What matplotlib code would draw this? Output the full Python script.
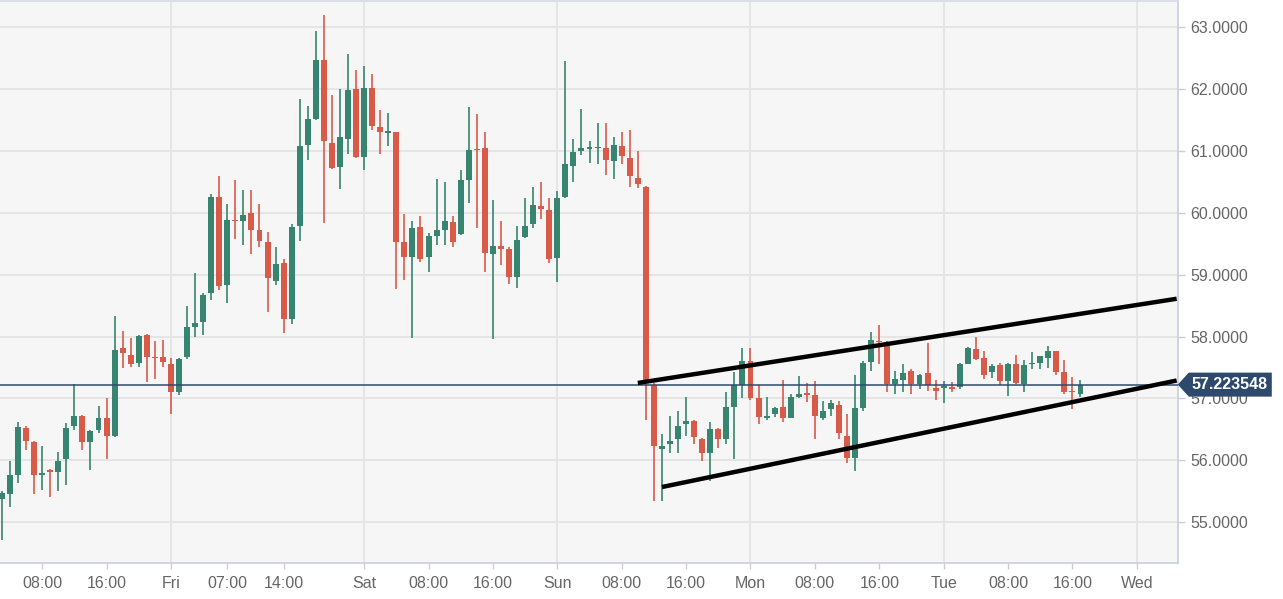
import numpy as np
import matplotlib.pyplot as plt
from matplotlib.patches import Polygon

plt.rcParams['font.family'] = ['Liberation Sans', 'DejaVu Sans']

# hourly candles, hour index counted from Thu 00:00
hours = list(range(3, 138))
opens = [55.37, 55.46, 55.76, 56.53, 56.30, 55.77, 55.84, 55.82, 56.02, 56.56,
         56.72, 56.30, 56.49, 56.69, 56.39, 57.82, 57.70, 57.57, 58.02, 57.67,
         57.67, 57.55, 57.11, 57.67, 58.16, 58.24, 58.70, 60.26, 58.83, 59.88,
         59.86, 59.99, 59.72, 59.52, 58.89, 59.19, 58.28, 59.79, 61.09, 61.51,
         62.47, 61.13, 60.74, 61.19, 62.00, 60.90, 62.02, 61.38, 61.29, 61.30,
         59.52, 59.28, 59.77, 59.28, 59.63, 59.72, 59.85, 59.65, 60.53, 61.03,
         61.04, 59.34, 59.47, 59.42, 58.96, 59.60, 59.81, 60.10, 60.05, 59.27,
         60.25, 60.75, 61.00, 61.03, 61.04, 61.04, 60.83, 61.08, 60.89, 60.56,
         60.41, 57.22, 56.18, 56.26, 56.34, 56.58, 56.63, 56.34, 56.12, 56.51,
         56.35, 56.87, 57.22, 57.60, 57.00, 56.68, 56.75, 56.86, 56.69, 57.03,
         57.08, 57.06, 56.69, 56.83, 56.90, 56.39, 56.04, 56.85, 57.59, 57.93,
         57.91, 57.24, 57.30, 57.45, 57.23, 57.41, 57.17, 57.17, 57.19, 57.19,
         57.56, 57.80, 57.65, 57.42, 57.54, 57.29, 57.56, 57.24, 57.55, 57.57,
         57.66, 57.76, 57.43, 57.12, 57.08]
highs = [55.50, 55.99, 56.62, 56.55, 56.32, 56.23, 55.86, 56.13, 56.61, 57.24,
         56.74, 56.49, 56.88, 57.00, 58.33, 58.09, 57.97, 58.03, 58.04, 57.93,
         57.95, 57.65, 57.66, 58.49, 59.02, 58.70, 60.30, 60.60, 60.14, 60.52,
         60.36, 60.36, 60.14, 59.68, 59.44, 59.26, 59.82, 61.83, 61.72, 62.94,
         63.19, 61.90, 62.00, 62.56, 62.31, 62.37, 62.24, 61.65, 61.61, 61.31,
         59.98, 59.86, 59.94, 59.67, 60.54, 60.49, 59.94, 60.69, 61.70, 61.59,
         61.30, 60.20, 59.86, 59.44, 59.79, 60.24, 60.41, 60.50, 60.24, 60.35,
         62.45, 61.19, 61.68, 61.15, 61.45, 61.45, 61.23, 61.30, 61.34, 61.00,
         60.43, 57.25, 56.43, 56.71, 56.79, 57.03, 56.65, 56.36, 56.62, 56.53,
         57.10, 57.43, 57.81, 57.81, 57.21, 57.03, 56.87, 57.30, 57.07, 57.37,
         57.25, 57.29, 56.96, 56.98, 56.96, 56.75, 57.38, 57.61, 58.08, 58.19,
         57.93, 57.44, 57.56, 57.47, 57.40, 57.89, 57.30, 57.29, 57.26, 57.58,
         57.83, 58.00, 57.77, 57.56, 57.58, 57.58, 57.70, 57.62, 57.75, 57.69,
         57.85, 57.77, 57.62, 57.35, 57.30]
lows = [54.71, 55.25, 55.63, 56.16, 55.46, 55.53, 55.41, 55.51, 55.60, 56.49,
        56.16, 55.84, 56.45, 56.02, 56.37, 57.49, 57.51, 57.51, 57.27, 57.31,
        57.51, 56.75, 57.05, 57.64, 58.00, 58.02, 58.59, 58.75, 58.54, 59.57,
        59.48, 59.33, 59.45, 58.40, 58.83, 58.06, 58.21, 59.55, 60.85, 61.49,
        59.84, 60.70, 60.39, 60.95, 60.88, 60.69, 61.34, 60.95, 61.07, 58.77,
        58.92, 57.98, 59.21, 59.05, 59.48, 59.48, 59.45, 59.64, 60.15, 59.75,
        59.04, 57.96, 59.16, 58.85, 58.78, 59.59, 59.75, 59.89, 59.19, 58.88,
        60.24, 60.49, 60.93, 60.81, 60.78, 60.61, 60.54, 60.78, 60.41, 60.40,
        56.66, 55.34, 55.35, 56.12, 56.12, 56.39, 56.27, 55.99, 55.67, 56.20,
        56.26, 56.02, 57.01, 56.97, 56.58, 56.66, 56.70, 56.62, 56.68, 57.00,
        56.94, 56.34, 56.65, 56.72, 56.34, 55.95, 55.83, 56.80, 57.45, 57.56,
        57.11, 57.07, 57.11, 57.08, 57.16, 57.12, 56.97, 56.92, 57.10, 57.15,
        57.55, 57.62, 57.31, 57.33, 57.21, 57.04, 57.23, 57.11, 57.48, 57.48,
        57.50, 57.38, 57.08, 56.83, 57.02]
closes = [55.47, 55.76, 56.54, 56.31, 55.76, 55.80, 55.81, 55.99, 56.53, 56.72,
          56.30, 56.47, 56.69, 56.39, 57.78, 57.73, 57.56, 58.01, 57.67, 57.65,
          57.59, 57.11, 57.63, 58.15, 58.22, 58.67, 60.26, 58.82, 59.88, 59.86,
          59.96, 59.72, 59.55, 58.94, 59.17, 58.29, 59.77, 61.08, 61.51, 62.47,
          61.16, 60.72, 61.23, 61.98, 60.90, 62.02, 61.40, 61.30, 61.31, 59.53,
          59.28, 59.75, 59.25, 59.62, 59.72, 59.87, 59.53, 60.53, 61.02, 61.01,
          59.35, 59.47, 59.42, 58.96, 59.56, 59.78, 60.13, 60.06, 59.26, 60.24,
          60.78, 60.98, 61.04, 61.05, 61.06, 60.85, 61.10, 60.92, 60.59, 60.47,
          57.30, 56.23, 56.24, 56.31, 56.56, 56.63, 56.38, 56.12, 56.51, 56.35,
          56.86, 57.22, 57.61, 57.01, 56.70, 56.72, 56.85, 56.69, 57.03, 57.07,
          57.06, 56.71, 56.80, 56.92, 56.45, 56.04, 56.85, 57.57, 57.94, 57.91,
          57.24, 57.32, 57.41, 57.24, 57.38, 57.21, 57.12, 57.19, 57.15, 57.56,
          57.82, 57.64, 57.38, 57.53, 57.29, 57.56, 57.25, 57.54, 57.57, 57.68,
          57.76, 57.42, 57.11, 57.10, 57.223548]

last_price = 57.223548

# channel drawn on the chart: (hour, price) end points
upper_line_h = [82.0, 148.95]
upper_line_p = [57.25, 58.61]
lower_line_h = [85.0, 148.95]
lower_line_p = [55.57, 57.29]

tick_hours = [8, 16, 24, 31, 38, 48, 56, 64, 72, 80, 88, 96, 104, 112, 120, 128, 136, 144]
tick_labels = ['08:00', '16:00', 'Fri', '07:00', '14:00', 'Sat', '08:00', '16:00', 'Sun',
               '08:00', '16:00', 'Mon', '08:00', '16:00', 'Tue', '08:00', '16:00', 'Wed']
day_hours = [24, 48, 72, 96, 120, 144]
price_ticks = [55, 56, 57, 58, 59, 60, 61, 62, 63]

GREEN = '#378470'
RED = '#d85a48'

fig = plt.figure(figsize=(12.83, 5.99), dpi=100)
fig.patch.set_facecolor('white')
ax = fig.add_axes([0, 0.0608, 0.918, 0.9367])
ax.set_facecolor('#f6f6f6')

h = np.array(hours)
o = np.array(opens)
hi = np.array(highs)
lo = np.array(lows)
c = np.array(closes)
up = c >= o
colors = np.where(up, GREEN, RED)

ax.vlines(h, lo, hi, colors=colors, lw=1.2, zorder=3)
bottoms = np.minimum(o, c)
heights = np.maximum(np.abs(c - o), 0.025)
ax.bar(h, heights, bottom=bottoms, width=0.74, color=colors, edgecolor='none', zorder=4)

# current price line
ax.axhline(last_price, color='#2e4a6e', lw=1.1, zorder=5)

# channel
ax.plot(upper_line_h, upper_line_p, color='black', lw=3.2, zorder=6, solid_capstyle='butt')
ax.plot(lower_line_h, lower_line_p, color='black', lw=3.2, zorder=6, solid_capstyle='butt')

ax.set_xlim(2.76, 149.09)
ax.set_ylim(54.35, 63.41)

# grid
for p in price_ticks:
    ax.axhline(p, color='#e4e4e4', lw=1.3, zorder=1)
for d in day_hours:
    ax.axvline(d, color='#e4e4e4', lw=1.3, zorder=1)

ax.set_xticks(tick_hours)
ax.set_xticklabels(tick_labels)
ax.set_yticks(price_ticks)
ax.set_yticklabels(['%.4f' % p for p in price_ticks])
ax.yaxis.tick_right()
ax.tick_params(axis='y', direction='out', length=5, width=1, color='#c9cedf',
               labelcolor='#666666', labelsize=11.5, pad=4)
ax.tick_params(axis='x', direction='out', length=4, width=1, color='#c9cedf',
               labelcolor='#666666', labelsize=11.5, pad=6)

ax.spines['left'].set_visible(False)
ax.spines['right'].set_color('#c9cedf')
ax.spines['bottom'].set_color('#c9cedf')
ax.spines['top'].set_color('#d6d9e6')
for side in ['right', 'bottom', 'top']:
    ax.spines[side].set_linewidth(1.2)

# price label on the right axis
fig.canvas.draw()
xt, yt = ax.transData.transform((149.09, last_price))
pts = [(xt, yt), (xt + 11, yt + 12), (xt + 94, yt + 12), (xt + 94, yt - 12), (xt + 11, yt - 12)]
inv = fig.transFigure.inverted()
fpts = inv.transform(pts)
fig.patches.append(Polygon(fpts, closed=True, transform=fig.transFigure,
                           facecolor='#2d4a6c', edgecolor='none', zorder=10))
tx, ty = inv.transform((xt + 14, yt))
fig.text(tx, ty, '57.223548', ha='left', va='center', color='white',
         fontsize=11.5, fontweight='bold', zorder=11)

fig.savefig('out.png', dpi=100)
